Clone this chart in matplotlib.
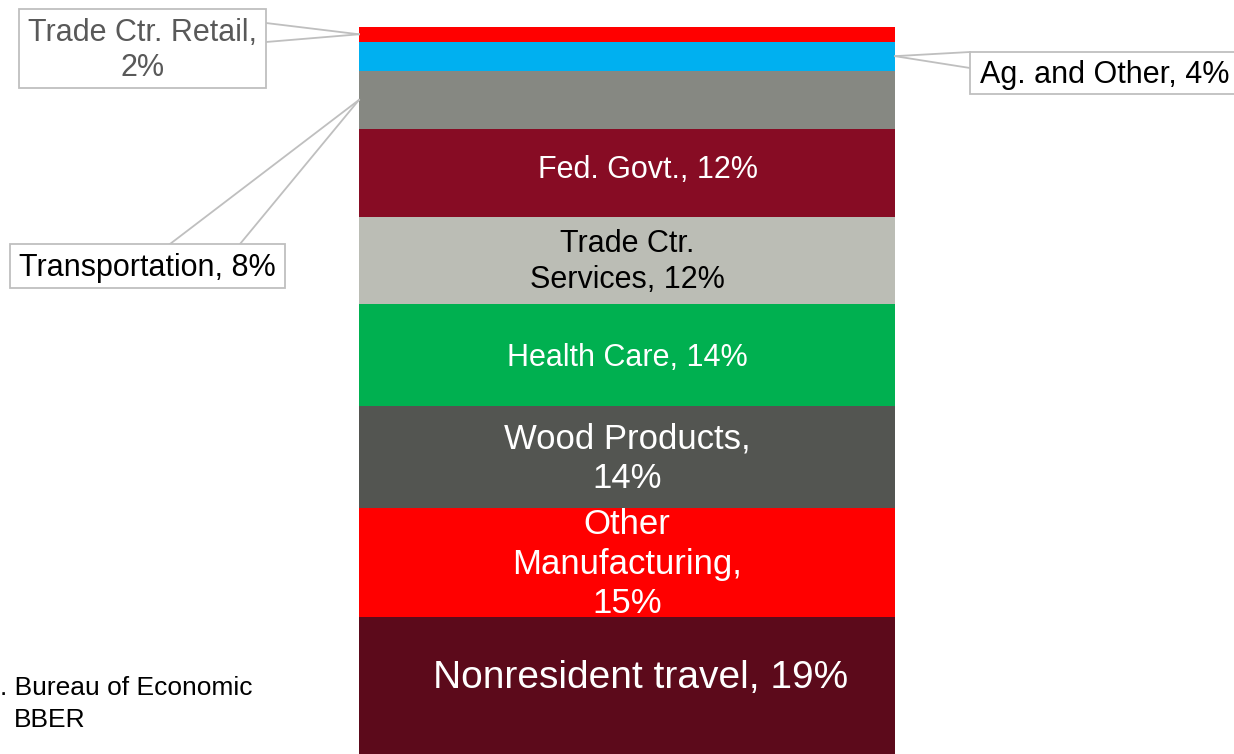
import matplotlib.pyplot as plt
from matplotlib.patches import Rectangle

plt.rcParams['font.family'] = ['Liberation Sans', 'DejaVu Sans']

# Datos: participación por sector (de abajo hacia arriba)
sectores = ["Nonresident travel", "Other\nManufacturing", "Wood Products",
            "Health Care", "Trade Ctr.\nServices", "Fed. Govt.",
            "Transportation", "Ag. and Other", "Trade Ctr. Retail"]
porcentajes = [19, 15, 14, 14, 12, 12, 8, 4, 2]
colores = ["#5C0A1B", "#FF0000", "#535551", "#00B050", "#BBBDB5",
           "#870C24", "#868882", "#00B0F0", "#FF0000"]

# textos dentro de la barra
etiquetas = {
    0: ("Nonresident travel, 19%", "white", 28, 10, 6),
    1: ("Other\nManufacturing,\n15%", "white", 25, 0, -1),
    2: ("Wood Products,\n14%", "white", 25, 0, -1),
    3: ("Health Care, 14%", "white", 22, 0, -2),
    4: ("Trade Ctr.\nServices, 12%", "black", 22, 0, -1),
    5: ("Fed. Govt., 12%", "white", 22, 15, 2),
}

fig = plt.figure(figsize=(12.34, 7.54), dpi=100)
W, H = 1234, 754
ax = fig.add_axes([359 / W, -2 / H, 536 / W, (H - 27 + 2) / H])
ax.set_xlim(-0.5, 0.5)
ax.set_ylim(0, sum(porcentajes))
ax.axis("off")

base = 0
medios = []
for i, (p, c) in enumerate(zip(porcentajes, colores)):
    ax.bar(0, p, bottom=base, width=1.0, color=c, edgecolor="none")
    medios.append(base + p / 2)
    base += p

for i, (txt, col, fs, dx, dy) in etiquetas.items():
    ax.annotate(txt, (0, medios[i]), xytext=(dx, dy), textcoords="offset points",
                ha="center", va="center", color=col, fontsize=fs, linespacing=1.25)

# capa en pixeles para las llamadas
ov = fig.add_axes([0, 0, 1, 1], facecolor="none")
ov.set_xlim(0, W)
ov.set_ylim(H, 0)
ov.axis("off")

def a_pixel(x, y):
    px, py = ax.transData.transform((x, y))
    return px, H - py

gris_borde = "#BFBFBF"

def llamada(idx, lado, caja, puntos, texto, color):
    x0, y0, x1, y1 = caja
    ov.add_patch(Rectangle((x0, y0), x1 - x0, y1 - y0, facecolor="white",
                           edgecolor=gris_borde, lw=1.3, zorder=3))
    ax_x = -0.5 if lado == "izq" else 0.5
    px, py = a_pixel(ax_x, medios[idx])
    for (qx, qy) in puntos:
        ov.plot([px, qx], [py, qy], color=gris_borde, lw=1.3, zorder=2)
    ov.text((x0 + x1) / 2, (y0 + y1) / 2 + 2, texto, ha="center", va="center",
            fontsize=22, color=color, linespacing=1.25, zorder=4)

llamada(8, "izq", (19, 9, 266, 88), [(266, 23), (266, 42)],
        "Trade Ctr. Retail,\n2%", "#595959")
llamada(7, "der", (970, 52, 1240, 94), [(970, 52), (970, 68)],
        "Ag. and Other, 4%", "black")
llamada(6, "izq", (10, 244, 285, 288), [(170, 244), (240, 244)],
        "Transportation, 8%", "black")

# fuente (recortada en el original)
ov.text(0, 688, ". Bureau of Economic", ha="left", va="center", fontsize=19, color="black")
ov.text(14, 720, "BBER", ha="left", va="center", fontsize=19, color="black")

fig.savefig("out.png", dpi=100)
